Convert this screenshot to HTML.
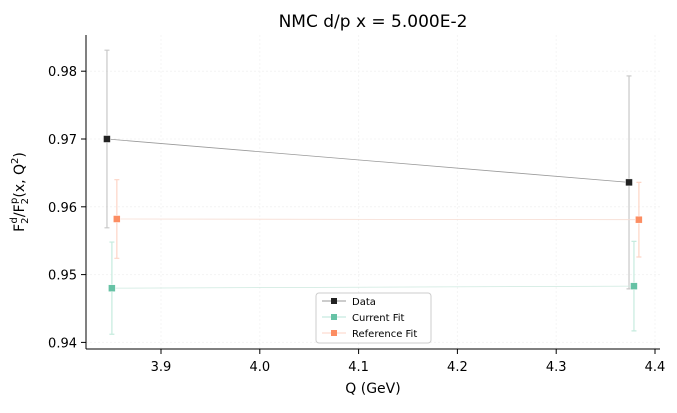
<!DOCTYPE html>
<html><head><meta charset="utf-8"><style>
body{margin:0;background:#fff;font-family:"Liberation Sans","DejaVu Sans",sans-serif}
svg text{font-family:"DejaVu Sans","Liberation Sans",sans-serif}
</style></head><body>
<svg id="chart" width="677" height="408" xmlns="http://www.w3.org/2000/svg">
<text x="373" y="27" font-size="17" text-anchor="middle" fill="#000">NMC d/p x = 5.000E-2</text>
<g id="grid"></g>
<g id="series"></g>
<line x1="86" y1="35" x2="86" y2="349" stroke="#000" stroke-width="1"/>
<line x1="86" y1="349" x2="660" y2="349" stroke="#000" stroke-width="1"/>
<g id="ticks"></g>
<text x="373" y="393" font-size="14" text-anchor="middle">Q (GeV)</text>
<text transform="translate(24,192) rotate(-90)" font-size="14" text-anchor="middle">F<tspan font-size="10" dy="4">2</tspan><tspan font-size="10" dy="-11" dx="-6">d</tspan><tspan dy="7">/F</tspan><tspan font-size="10" dy="4">2</tspan><tspan font-size="10" dy="-11" dx="-6">p</tspan><tspan dy="7">(x, Q</tspan><tspan font-size="10" dy="-6">2</tspan><tspan dy="6">)</tspan></text>
<g>
<rect x="316" y="293" width="115" height="50" rx="3" fill="#fff" stroke="#ccc"/>
<g><line x1="322" y1="301" x2="346" y2="301" stroke="#999"/><rect x="331" y="298" width="6" height="6" fill="#222"/><text x="352" y="305" font-size="10">Data</text></g>
<g><line x1="322" y1="317" x2="346" y2="317" stroke="#b8e6d8"/><rect x="331" y="314" width="6" height="6" fill="#66c2a5"/><text x="352" y="321" font-size="10">Current Fit</text></g>
<g><line x1="322" y1="333" x2="346" y2="333" stroke="#fcd3c4"/><rect x="331" y="330" width="6" height="6" fill="#fc8d62"/><text x="352" y="337" font-size="10">Reference Fit</text></g>
</g>
</svg>
<script>
const xTicks=[3.9,4.0,4.1,4.2,4.3,4.4];
const yTicks=[0.94,0.95,0.96,0.97,0.98];
const dataQ=[3.8453,4.3737];
const dataVal=[0.9700,0.9636];
const dataErr=[0.0131,0.0157];
const curQ=[3.8503,4.3787];
const curVal=[0.9480,0.9483];
const curErr=[0.0068,0.0066];
const refQ=[3.8553,4.3837];
const refVal=[0.9582,0.9581];
const refErr=[0.0058,0.0055];
const NS="http://www.w3.org/2000/svg";
const X=v=>161+(v-3.9)*988;
const Y=v=>139-(v-0.97)*6780;
function mk(tag,attrs,parent){const e=document.createElementNS(NS,tag);for(const k in attrs)e.setAttribute(k,attrs[k]);parent.appendChild(e);return e;}
const grid=document.getElementById('grid'),ticks=document.getElementById('ticks'),ser=document.getElementById('series');
xTicks.forEach(t=>{const x=X(t);
 const g=mk('line',{x1:x,x2:x,y1:35,y2:349,stroke:'#f4f4f4','stroke-dasharray':'2,2'},grid);
 
 
 const l=mk('line',{x1:x,x2:x,y1:349,y2:354,stroke:'#000'},ticks);
 
 
 const tx=mk('text',{x:x,y:371,'font-size':13,'text-anchor':'middle'},ticks);tx.textContent=t.toFixed(1);
 
 
});
yTicks.forEach(t=>{const y=Y(t);
 const g=mk('line',{x1:86,x2:660,y1:y,y2:y,stroke:'#f4f4f4','stroke-dasharray':'2,2'},grid);
 
 
 const l=mk('line',{x1:81,x2:86,y1:y,y2:y,stroke:'#000'},ticks);
 
 
 const tx=mk('text',{x:77,y:y+5,'font-size':13,'text-anchor':'end'},ticks);tx.textContent=t.toFixed(2);
 
 
});
function series(name,qs,vs,es,lineC,errC,mC){
 const g=mk('g',{},ser);
 
 
 const pl=mk('polyline',{points:qs.map((q,i)=>X(q)+','+Y(vs[i])).join(' '),fill:'none',stroke:lineC,'stroke-width':0.8},g);
 
 
 qs.forEach((q,i)=>{const x=X(q),y1=Y(vs[i]+es[i]),y2=Y(vs[i]-es[i]);
  const e=mk('path',{d:`M${x},${y1}V${y2}M${x-2.5},${y1}H${x+2.5}M${x-2.5},${y2}H${x+2.5}`,stroke:errC,'stroke-width':1.2,fill:'none'},g);
  
  
  const m=mk('rect',{x:x-3.5,y:Y(vs[i])-3.5,width:7,height:7,fill:mC,stroke:'#fff','stroke-width':0.5},g);
  
  
 });
}
series('data',dataQ,dataVal,dataErr,'#999','#c8c8c8','#222');
series('current-fit',curQ,curVal,curErr,'#cde9df','#c6ebde','#66c2a5');
series('reference-fit',refQ,refVal,refErr,'#f6dcd2','#fdd5c6','#fc8d62');
</script>
</body></html>
